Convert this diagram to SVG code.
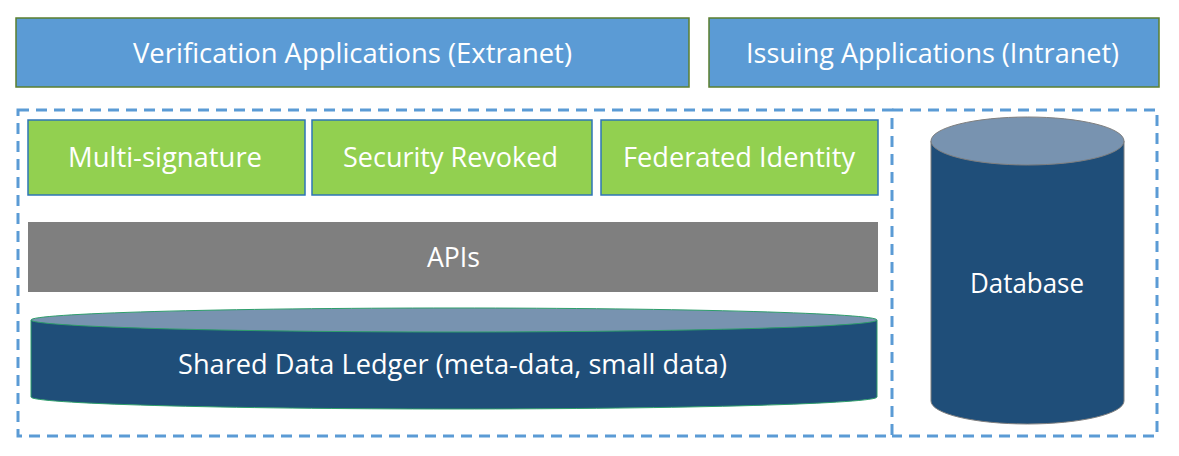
<svg xmlns="http://www.w3.org/2000/svg" width="1179" height="456" viewBox="0 0 1179 456">
<style>
.app{fill:#5b9bd5;stroke:#5b7f2f;stroke-width:1.5}
.feat{fill:#92d050;stroke:#2e75b6;stroke-width:1.5}
.dash{fill:none;stroke:#5b9bd5;stroke-width:3;stroke-dasharray:11 7}
.cylbody{fill:#1f4e79}
.cyltop{fill:#7893b0}
.lbl{font-family:"Open Sans","Noto Sans",sans-serif;font-size:28px;fill:#ffffff;text-anchor:middle}
</style>
<rect width="1179" height="456" fill="#ffffff"/>
<g id="containers">
<rect class="dash" x="18" y="110" width="874" height="326"/>
<path class="dash" d="M892,110 H1157 V436 H892"/>
</g>
<g id="verification">
<rect class="app" x="16" y="18" width="673" height="69"/>
<text class="lbl" x="352.5" y="63" textLength="439" lengthAdjust="spacingAndGlyphs">Verification Applications (Extranet)</text>
</g>
<g id="issuing">
<rect class="app" x="709" y="18" width="450" height="69"/>
<text class="lbl" x="932.5" y="63" textLength="373" lengthAdjust="spacingAndGlyphs">Issuing Applications (Intranet)</text>
</g>
<g id="multisig">
<rect class="feat" x="28" y="120" width="277" height="75"/>
<text class="lbl" x="165" y="167" textLength="194" lengthAdjust="spacingAndGlyphs">Multi-signature</text>
</g>
<g id="security">
<rect class="feat" x="312" y="120" width="280" height="75"/>
<text class="lbl" x="450.5" y="167" textLength="215" lengthAdjust="spacingAndGlyphs">Security Revoked</text>
</g>
<g id="federated">
<rect class="feat" x="601" y="120" width="277" height="75"/>
<text class="lbl" x="739" y="167" textLength="232" lengthAdjust="spacingAndGlyphs">Federated Identity</text>
</g>
<g id="apis">
<rect x="28" y="222" width="850" height="70" fill="#7f7f7f"/>
<text class="lbl" x="453.5" y="267" textLength="53" lengthAdjust="spacingAndGlyphs">APIs</text>
</g>
<g id="ledger">
<path class="cylbody" d="M31,320 L31,397 A423,12 0 0 0 877,397 L877,320 Z" stroke="#2e9e6b" stroke-width="1"/>
<ellipse class="cyltop" cx="454" cy="320" rx="423" ry="12" stroke="#2e9e6b" stroke-width="1"/>
<text class="lbl" x="452.5" y="374" textLength="549" lengthAdjust="spacingAndGlyphs">Shared Data Ledger (meta-data, small data)</text>
</g>
<g id="database">
<path class="cylbody" d="M931,141 L931,401 A96.5,23 0 0 0 1124,401 L1124,141 Z" stroke="#7f7f7f" stroke-width="1"/>
<ellipse class="cyltop" cx="1027.5" cy="141" rx="96.5" ry="24" stroke="#7f7f7f" stroke-width="1"/>
<text class="lbl" x="1027" y="293" textLength="114" lengthAdjust="spacingAndGlyphs">Database</text>
</g>
<g id="connectors"></g>
</svg>
